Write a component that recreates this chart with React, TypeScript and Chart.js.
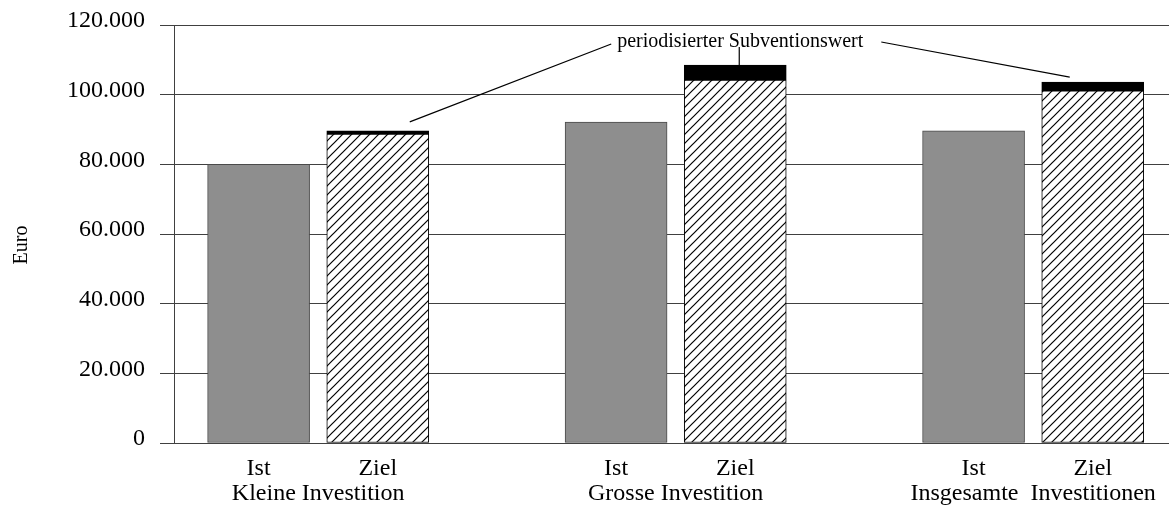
import React, { useEffect, useRef } from 'react';
import { Chart, registerables } from 'chart.js';

Chart.register(...registerables);

const categories = ['Kleine Investition', 'Grosse Investition', 'Insgesamte  Investitionen'];
const barLabels = ['Ist', 'Ziel'];
const istValues = [80000, 92100, 89600];
const zielValues = [88700, 104200, 101100];
const subventionValues = [900, 4300, 2500];
const yMax = 120000;
const yStep = 20000;
const axisTitle = 'Euro';
const annotationText = 'periodisierter Subventionswert';

const FONT = "'Liberation Serif', 'Times New Roman', serif";

function makeHatch(): CanvasPattern | string {
  const s = 9;
  const c = document.createElement('canvas');
  c.width = s;
  c.height = s;
  const ctx = c.getContext('2d');
  if (!ctx) return '#fff';
  ctx.fillStyle = '#ffffff';
  ctx.fillRect(0, 0, s, s);
  ctx.strokeStyle = '#000000';
  ctx.lineWidth = 1.2;
  ctx.beginPath();
  ctx.moveTo(-1, s + 1);
  ctx.lineTo(s + 1, -1);
  ctx.moveTo(-2, 2);
  ctx.lineTo(2, -2);
  ctx.moveTo(s - 2, s + 2);
  ctx.lineTo(s + 2, s - 2);
  ctx.stroke();
  const p = ctx.createPattern(c, 'repeat');
  return p || '#fff';
}

function formatDe(v: number): string {
  return String(v).replace(/\B(?=(\d{3})+(?!\d))/g, '.');
}

export default function App() {
  const ref = useRef<HTMLCanvasElement | null>(null);

  useEffect(() => {
    if (!ref.current) return;
    const hatch = makeHatch();

    const istPos = categories.map((_, g) => 3 * g);
    const zielPos = categories.map((_, g) => 3 * g + 1);
    const groupPos = categories.map((_, g) => 3 * g + 0.5);

    const tickLabelMap = new Map<number, string | string[]>();
    istPos.forEach((p) => tickLabelMap.set(p, barLabels[0]));
    zielPos.forEach((p) => tickLabelMap.set(p, barLabels[1]));
    groupPos.forEach((p, i) => tickLabelMap.set(p, ['', categories[i]]));
    const tickValues = Array.from(tickLabelMap.keys()).sort((a, b) => a - b);

    const annotationPlugin = {
      id: 'annot',
      afterDatasetsDraw(chart: any) {
        const ctx = chart.ctx;
        const ca = chart.chartArea;
        const meta = chart.getDatasetMeta(2);
        const els = meta.data;
        if (!els || els.length < 3) return;
        const kl = els[0];
        const gr = els[1];
        const ig = els[2];
        ctx.save();
        ctx.font = `20px ${FONT}`;
        ctx.fillStyle = '#000';
        ctx.textAlign = 'center';
        ctx.textBaseline = 'alphabetic';
        const tx = gr.x + 5;
        const ty = ca.top + 22;
        ctx.fillText(annotationText, tx, ty);
        const w = ctx.measureText(annotationText).width;
        ctx.strokeStyle = '#000';
        ctx.lineWidth = 1.2;
        ctx.beginPath();
        ctx.moveTo(tx - w / 2 - 6, ty - 3);
        ctx.lineTo(kl.x + 32, kl.y - 9);
        ctx.moveTo(gr.x + 4, ty);
        ctx.lineTo(gr.x + 4, gr.y);
        ctx.moveTo(tx + w / 2 + 18, ty - 5);
        ctx.lineTo(ig.x - 23, ig.y - 5);
        ctx.stroke();
        // axis title
        ctx.translate(22, (ca.top + ca.bottom) / 2 + 11);
        ctx.rotate(-Math.PI / 2);
        ctx.textBaseline = 'middle';
        ctx.fillText(axisTitle, 0, 0);
        ctx.restore();
      },
    };

    const chart = new Chart(ref.current, {
      type: 'bar',
      data: {
        datasets: [
          {
            label: barLabels[0],
            data: istValues.map((v, i) => ({ x: istPos[i], y: v })),
            backgroundColor: '#8e8e8e',
            borderColor: '#4a4a4a',
            borderWidth: 1,
            borderSkipped: false,
            barThickness: 102,
            stack: 'a',
          },
          {
            label: barLabels[1],
            data: zielValues.map((v, i) => ({ x: zielPos[i], y: v })),
            backgroundColor: hatch as any,
            borderColor: '#000',
            borderWidth: 1,
            borderSkipped: false,
            barThickness: 102,
            stack: 'a',
          },
          {
            label: annotationText,
            data: subventionValues.map((v, i) => ({ x: zielPos[i], y: v })),
            backgroundColor: '#000',
            borderColor: '#000',
            borderWidth: 1,
            borderSkipped: false,
            barThickness: 102,
            stack: 'a',
          },
        ],
      },
      options: {
        animation: false,
        responsive: false,
        devicePixelRatio: 1,
        layout: { padding: { top: 25, left: 0, right: 0, bottom: 0 } },
        plugins: {
          legend: { display: false },
          tooltip: { enabled: false },
          title: { display: false },
        },
        scales: {
          x: {
            type: 'linear',
            stacked: true,
            offset: false,
            min: -0.71,
            max: 7.64,
            grid: { display: false, drawTicks: false, offset: false },
            border: { display: false },
            afterBuildTicks: (scale: any) => {
              scale.ticks = tickValues.map((v) => ({ value: v }));
            },
            afterFit: (scale: any) => {
              scale.height = 63;
              scale.paddingLeft = 0;
              scale.paddingRight = 0;
            },
            ticks: {
              autoSkip: false,
              maxRotation: 0,
              minRotation: 0,
              padding: 13,
              color: '#000',
              font: { family: FONT, size: 24, lineHeight: 1.06 },
              callback: (value: any) => tickLabelMap.get(Number(value)) ?? '',
            },
          },
          y: {
            type: 'linear',
            stacked: true,
            min: 0,
            max: yMax,
            grid: {
              color: '#404040',
              lineWidth: 1,
              drawTicks: true,
              tickLength: 14,
            },
            border: { display: true, color: '#404040', width: 1 },
            afterFit: (scale: any) => {
              scale.width = 174;
              scale.paddingTop = 0;
              scale.paddingBottom = 0;
            },
            ticks: {
              stepSize: yStep,
              padding: 15,
              color: '#000',
              labelOffset: -4,
              font: { family: FONT, size: 24 },
              callback: (v: any) => formatDe(Number(v)),
            },
          },
        },
      },
      plugins: [annotationPlugin],
    });
    return () => chart.destroy();
  }, []);

  return (
    <div style={{ position: 'absolute', left: 0, top: 0, width: 1169, height: 506, background: '#fff' }}>
      <canvas ref={ref} width={1169} height={506} />
    </div>
  );
}
